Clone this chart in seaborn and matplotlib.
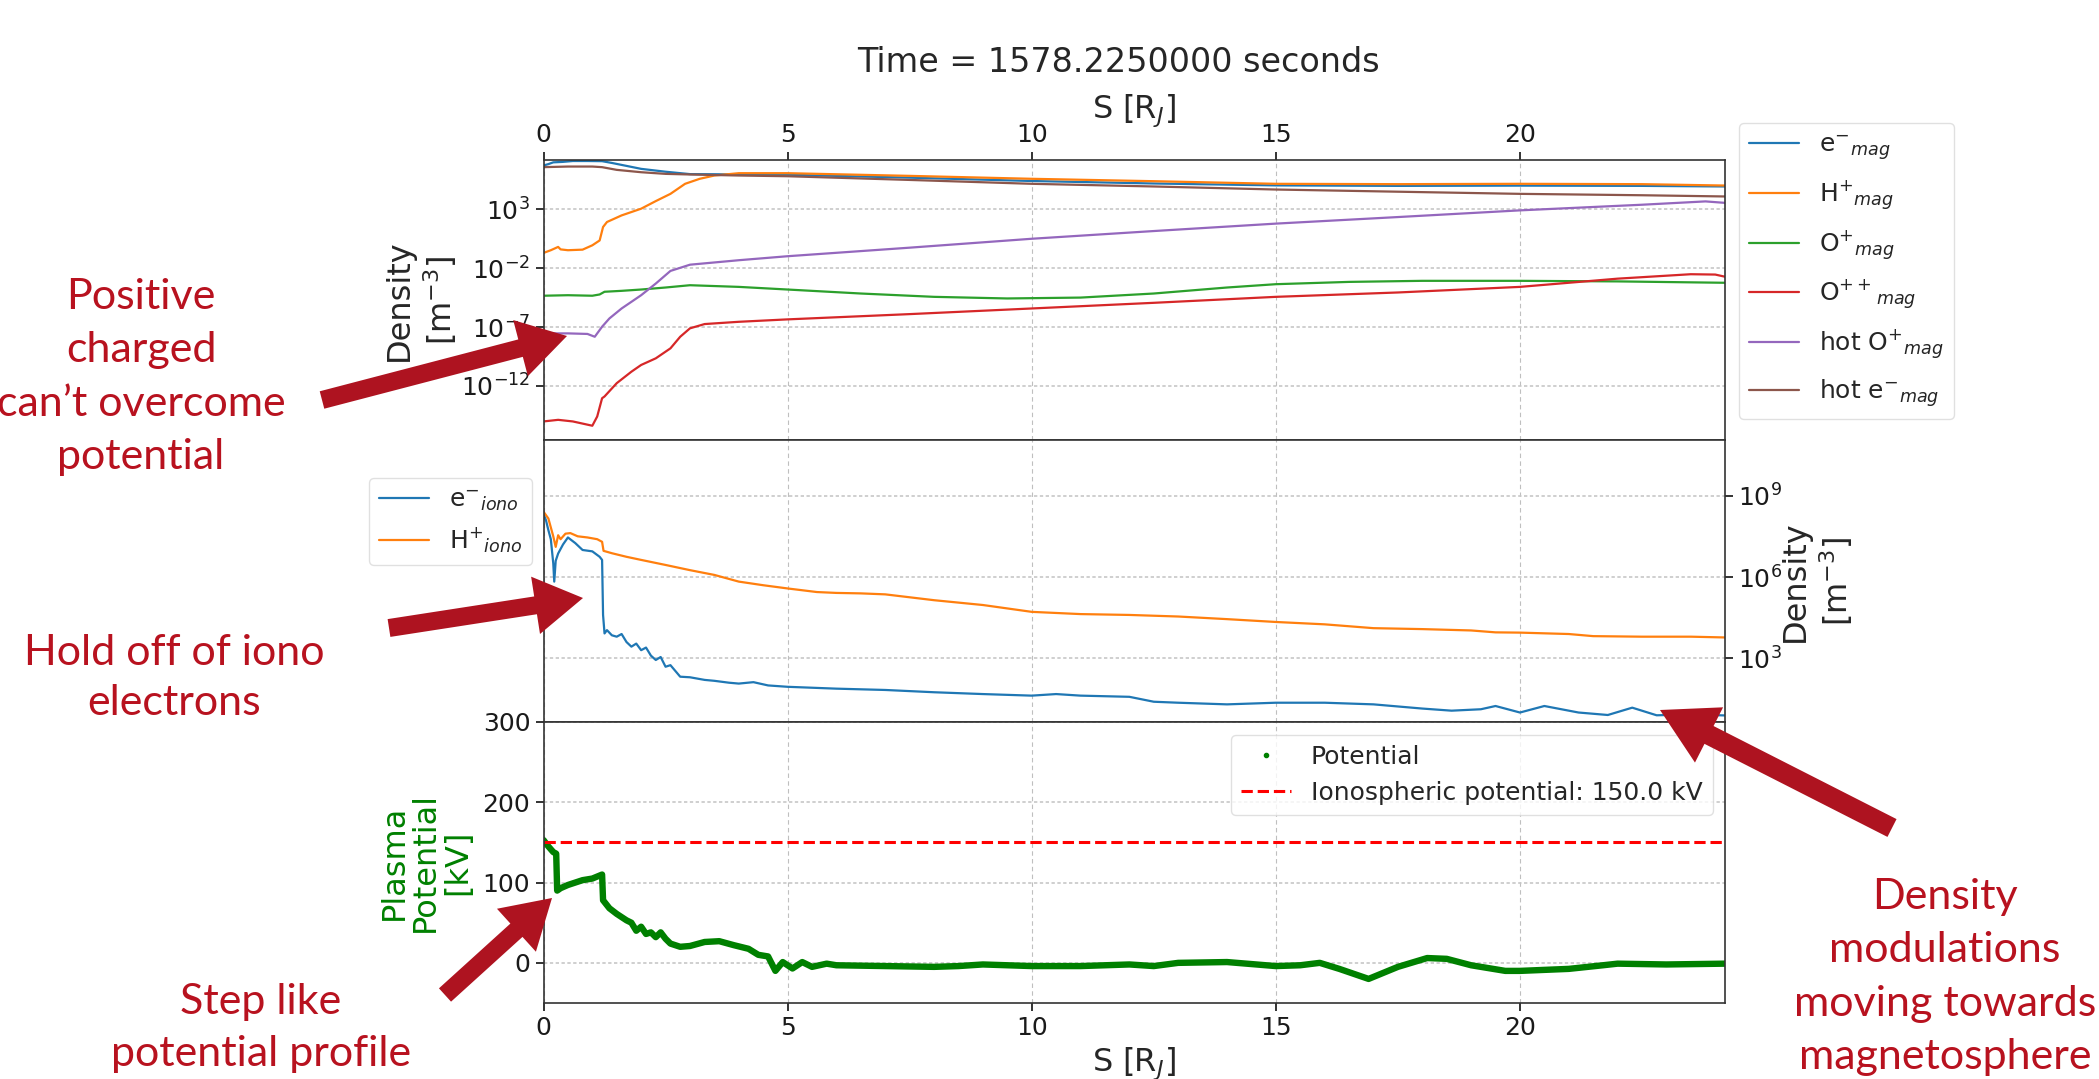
import numpy as np
import pandas as pd
import matplotlib
matplotlib.use("Agg")
import matplotlib.pyplot as plt
import seaborn as sns
from matplotlib.lines import Line2D
from matplotlib.patches import FancyArrow
from matplotlib.transforms import IdentityTransform
from matplotlib.ticker import FixedLocator, LogFormatterSciNotation, NullLocator

# ---------------------------------------------------------------- data
# magnetospheric populations, density [m^-3] along field line S [R_J]
s_e_mag = [0, 0.1, 0.2, 0.4, 0.6, 0.9, 1.2, 1.4, 1.7, 2.0, 2.5, 3.0, 4.0, 5.0,
           7.5, 10, 12.5, 15, 17.5, 20, 22.5, 24.2]
n_e_mag = [5.4e6, 7.1e6, 1.0e7, 1.1e7, 1.3e7, 1.3e7, 1.26e7, 8.9e6, 5.0e6, 2.8e6,
           1.6e6, 1.0e6, 9.5e5, 8.9e5, 5.0e5, 2.6e5, 1.6e5, 1.1e5, 1.0e5, 1.05e5,
           1.0e5, 8.9e4]

s_h_mag = [0, 0.15, 0.3, 0.35, 0.5, 0.8, 1.0, 1.15, 1.22, 1.3, 1.6, 2.0, 2.3,
           2.6, 2.9, 3.2, 3.5, 4.0, 5.0, 7.5, 10, 12.5, 15, 17.5, 20, 22.5, 24.2]
n_h_mag = [0.20, 0.34, 0.65, 0.40, 0.34, 0.38, 0.89, 2.3, 32, 85, 310, 1150, 5100,
           2.1e4, 1.5e5, 4.0e5, 7.6e5, 1.2e6, 1.2e6, 7.1e5, 4.0e5, 2.5e5, 1.5e5,
           1.4e5, 1.5e5, 1.4e5, 1.07e5]

s_o_mag = [0, 0.5, 1.0, 1.15, 1.25, 1.6, 2.0, 2.5, 3.0, 4.0, 5.0, 6.5, 8.0, 9.5,
           11, 12.5, 14, 15, 16.5, 18, 20, 22, 24.2]
n_o_mag = [4.6e-5, 5.1e-5, 4.6e-5, 5.9e-5, 1.0e-4, 1.2e-4, 1.55e-4, 2.3e-4, 3.6e-4,
           2.6e-4, 1.55e-4, 7.1e-5, 3.7e-5, 2.7e-5, 3.2e-5, 7.1e-5, 2.3e-4, 4.4e-4,
           6.9e-4, 8.5e-4, 8.5e-4, 7.6e-4, 5.8e-4]

s_o2_mag = [0, 0.3, 0.6, 1.0, 1.1, 1.2, 1.25, 1.5, 1.8, 2.0, 2.3, 2.6, 2.8, 3.0,
            3.3, 4.0, 5.0, 7.5, 10, 12.5, 15, 17.5, 20, 22, 23.5, 24.0, 24.2]
n_o2_mag = [9.5e-16, 1.3e-15, 9.5e-16, 4.1e-16, 2.5e-15, 8.9e-14, 1.26e-13, 1.7e-12,
            1.6e-11, 6.0e-11, 2.2e-10, 1.55e-9, 1.5e-8, 7.8e-8, 1.8e-7, 2.8e-7,
            4.5e-7, 1.26e-6, 3.8e-6, 1.15e-5, 3.7e-5, 8.7e-5, 2.6e-4, 1.3e-3,
            3.1e-3, 2.9e-3, 1.9e-3]

s_hot_o = [0, 0.5, 0.9, 1.05, 1.2, 1.35, 1.6, 2.0, 2.3, 2.6, 3.0, 4.0, 5.0, 7.5,
           10, 12.5, 15, 17.5, 20, 22.5, 23.8, 24.2]
n_hot_o = [2.9e-8, 2.9e-8, 2.6e-8, 1.5e-8, 1.07e-7, 5.4e-7, 3.8e-6, 5.1e-5, 5.0e-4,
           5.9e-3, 2.0e-2, 4.8e-2, 0.105, 0.56, 3.2, 14.5, 62, 224, 830, 2500,
           4800, 3600]

s_hot_e = [0, 0.5, 1.0, 1.2, 1.5, 2.0, 2.5, 3.0, 4.0, 5.0, 7.5, 10, 12.5, 15, 17.5,
           20, 22.5, 24.2]
n_hot_e = [3.9e6, 4.4e6, 4.4e6, 3.9e6, 2.3e6, 1.45e6, 1.05e6, 9.3e5, 7.6e5, 6.6e5,
           3.2e5, 1.5e5, 8.9e4, 4.9e4, 3.2e4, 2.1e4, 1.6e4, 1.26e4]

# ionospheric populations
s_e_iono = [0, 0.05, 0.1, 0.15, 0.2, 0.22, 0.25, 0.3, 0.4, 0.5, 0.65, 0.8, 1.0,
            1.15, 1.2, 1.22, 1.25, 1.3, 1.4, 1.5, 1.6, 1.7, 1.8, 1.9, 2.0, 2.1,
            2.2, 2.3, 2.4, 2.5, 2.6, 2.8, 3.0, 3.3, 3.5, 3.8, 4.0, 4.3, 4.6, 5.0,
            6.0, 7.0, 8.0, 9.0, 10.0, 10.5, 11.0, 12.0, 12.5, 13.0, 14.0, 15.0,
            16.0, 17.0, 18.0, 18.6, 19.2, 19.5, 20.0, 20.5, 21.2, 21.8, 22.3,
            22.8, 23.5, 24.2]
n_e_iono = [2.2e8, 1.26e8, 5.4e7, 2.5e7, 3.2e6, 6.8e5, 4.0e6, 7.4e6, 1.6e7, 2.9e7,
            1.8e7, 1.0e7, 8.9e6, 5.6e6, 4.3e6, 4.0e4, 8.3e3, 1.1e4, 7.1e3, 6.3e3,
            7.9e3, 4.0e3, 2.7e3, 3.5e3, 2.0e3, 2.5e3, 1.26e3, 870, 1120, 490, 560,
            210, 200, 160, 148, 126, 117, 132, 100, 89, 76, 68, 56, 48, 42, 48,
            42, 38, 25, 23, 20, 23, 23, 20, 14, 11.7, 13.2, 17.4, 10, 17.4, 10,
            8.1, 15.1, 7.9, 8.5, 7.8]

s_h_iono = [0, 0.1, 0.2, 0.25, 0.3, 0.35, 0.45, 0.55, 0.7, 0.9, 1.1, 1.2, 1.23,
            1.4, 1.7, 2.0, 2.5, 3.0, 3.5, 4.0, 4.5, 5.0, 5.6, 6.0, 6.5, 7.0, 8.0,
            9.0, 10.0, 11.0, 12.0, 13.0, 14.0, 15.0, 16.0, 17.0, 18.0, 19.0, 19.5,
            20.0, 21.0, 21.5, 22.5, 23.5, 24.2]
n_h_iono = [2.6e8, 1.45e8, 3.2e7, 1.3e7, 3.5e7, 2.5e7, 4.0e7, 4.2e7, 3.2e7, 2.9e7,
            2.5e7, 2.0e7, 9.3e6, 7.6e6, 5.6e6, 4.3e6, 2.8e6, 1.8e6, 1.2e6, 6.8e5,
            5.0e5, 3.8e5, 2.8e5, 2.6e5, 2.5e5, 2.3e5, 1.4e5, 9.3e4, 5.2e4, 4.3e4,
            4.0e4, 3.5e4, 2.8e4, 2.2e4, 1.8e4, 1.3e4, 1.2e4, 1.07e4, 9.1e3, 8.9e3,
            7.9e3, 6.6e3, 6.3e3, 6.3e3, 5.9e3]

# plasma potential [kV]
s_pot = [0, 0.1, 0.2, 0.26, 0.28, 0.35, 0.5, 0.8, 1.0, 1.2, 1.22, 1.35, 1.5, 1.7,
         1.8, 1.9, 2.0, 2.1, 2.2, 2.3, 2.4, 2.5, 2.6, 2.8, 3.0, 3.3, 3.6, 3.9, 4.2,
         4.4, 4.6, 4.75, 4.9, 5.1, 5.3, 5.5, 5.8, 6.0, 7.0, 8.0, 8.5, 9.0, 10.0,
         11.0, 12.0, 12.5, 13.0, 14.0, 15.0, 15.5, 15.9, 16.3, 16.9, 17.5, 18.1,
         18.5, 19.0, 19.7, 20.0, 21.0, 21.7, 22.0, 23.0, 24.2]
phi_pot = [153, 145, 138, 136, 90, 93, 97, 103, 105, 110, 78, 68, 61, 53, 50, 40,
           45, 36, 38, 32, 38, 30, 24, 20, 21, 26, 27, 22, 17.5, 10, 8, -10, 1, -7,
           1, -5, -1, -3, -4, -5, -4, -2, -4, -4, -2, -4, 0, 1, -4, -3, 0, -7.5,
           -20, -5, 6, 5, -3, -10, -10, -7.5, -3, -1, -2, -1]
iono_potential = 150.0

s_max = 24.2
time_s = 1578.225

TAB = ['#1f77b4', '#ff7f0e', '#2ca02c', '#d62728', '#9467bd', '#8c564b']

mag_series = [
    (s_e_mag, n_e_mag, r'e$^{-}$$_{mag}$', TAB[0]),
    (s_h_mag, n_h_mag, r'H$^{+}$$_{mag}$', TAB[1]),
    (s_o_mag, n_o_mag, r'O$^{+}$$_{mag}$', TAB[2]),
    (s_o2_mag, n_o2_mag, r'O$^{++}$$_{mag}$', TAB[3]),
    (s_hot_o, n_hot_o, r'hot O$^{+}$$_{mag}$', TAB[4]),
    (s_hot_e, n_hot_e, r'hot e$^{-}$$_{mag}$', TAB[5]),
]
iono_series = [
    (s_e_iono, n_e_iono, r'e$^{-}$$_{iono}$', TAB[0]),
    (s_h_iono, n_h_iono, r'H$^{+}$$_{iono}$', TAB[1]),
]

# ---------------------------------------------------------------- style
sns.set_theme(style="ticks")
plt.rcParams['font.family'] = ['DejaVu Sans']
plt.rcParams['mathtext.fontset'] = 'dejavusans'
plt.rcParams['axes.edgecolor'] = '0.2'
plt.rcParams['axes.linewidth'] = 1.2
plt.rcParams['xtick.color'] = '0.1'
plt.rcParams['ytick.color'] = '0.1'
plt.rcParams['legend.frameon'] = True
plt.rcParams['legend.framealpha'] = 0.8
plt.rcParams['legend.edgecolor'] = '0.85'

TICK = 18
LAB = 23
W, H = 2099, 1079
fig = plt.figure(figsize=(W / 100, H / 100), dpi=100)


def box(top_px, bottom_px, left_px=543.5, right_px=1725):
    return [left_px / W, 1 - bottom_px / H, (right_px - left_px) / W,
            (bottom_px - top_px) / H]


ax_mag = fig.add_axes(box(160, 440))
ax_iono = fig.add_axes(box(440, 722))
ax_pot = fig.add_axes(box(722, 1003))


def add_grid(ax):
    ax.grid(axis='x', ls=(0, (4, 3)), color='0.75', lw=0.8)
    ax.grid(axis='y', ls=(0, (2, 1.5)), color='0.78', lw=1.2)
    ax.set_axisbelow(True)


# ---- magnetospheric densities
for s, n, lab, col in mag_series:
    sns.lineplot(x=s, y=n, ax=ax_mag, color=col, label=lab, lw=1.6)
ax_mag.set_yscale('log')
ax_mag.set_xlim(0, s_max)
ax_mag.set_ylim(10 ** -16.6, 10 ** 7.2)
ax_mag.yaxis.set_major_locator(FixedLocator([1e-12, 1e-7, 1e-2, 1e3]))
ax_mag.yaxis.set_major_formatter(LogFormatterSciNotation())
ax_mag.yaxis.set_minor_locator(NullLocator())
ax_mag.xaxis.tick_top()
ax_mag.xaxis.set_label_position('top')
ax_mag.set_xticks([0, 5, 10, 15, 20])
ax_mag.tick_params(labelsize=TICK)
ax_mag.set_xlabel(r'S [R$_J$]', fontsize=LAB, labelpad=4)
ax_mag.set_ylabel('Density\n' + r'[m$^{-3}$]', fontsize=LAB, labelpad=1.5)
add_grid(ax_mag)
ax_mag.legend(loc='upper left', bbox_to_anchor=(1.012, 1.132), borderaxespad=0,
              fontsize=TICK, handlelength=2.0, labelspacing=0.64)

# ---- ionospheric densities
for s, n, lab, col in iono_series:
    sns.lineplot(x=s, y=n, ax=ax_iono, color=col, label=lab, lw=1.6)
ax_iono.set_yscale('log')
ax_iono.set_xlim(0, s_max)
ax_iono.set_ylim(10 ** 0.65, 10 ** 11.06)
ax_iono.yaxis.tick_right()
ax_iono.yaxis.set_label_position('right')
ax_iono.yaxis.set_major_locator(FixedLocator([1e3, 1e6, 1e9]))
ax_iono.yaxis.set_major_formatter(LogFormatterSciNotation())
ax_iono.yaxis.set_minor_locator(NullLocator())
ax_iono.set_xticks([0, 5, 10, 15, 20])
ax_iono.tick_params(axis='x', bottom=False, labelbottom=False)
ax_iono.tick_params(axis='y', labelsize=TICK)
ax_iono.set_xlabel('')
ax_iono.set_ylabel('Density\n' + r'[m$^{-3}$]', fontsize=LAB, labelpad=-1.5)
add_grid(ax_iono)
ax_iono.legend(loc='upper right', bbox_to_anchor=(-0.0097, 0.865), borderaxespad=0,
               fontsize=TICK, handlelength=2.0)

# ---- plasma potential
sns.lineplot(x=s_pot, y=phi_pot, ax=ax_pot, color='green', lw=4.6, legend=False)
ax_pot.axhline(iono_potential, color='red', ls='--', lw=2.2)
ax_pot.set_xlim(0, s_max)
ax_pot.set_ylim(-50, 300)
ax_pot.set_xticks([0, 5, 10, 15, 20])
ax_pot.set_yticks([0, 100, 200, 300])
ax_pot.tick_params(labelsize=TICK)
ax_pot.set_xlabel(r'S [R$_J$]', fontsize=LAB, labelpad=4)
ax_pot.set_ylabel('Plasma\nPotential\n[kV]', fontsize=LAB, color='green', labelpad=7,
                  linespacing=1.03)
add_grid(ax_pot)
pot_handles = [
    Line2D([], [], ls='', marker='.', color='green', markersize=6),
    Line2D([], [], ls='--', color='red', lw=2.2),
]
ax_pot.legend(pot_handles, ['Potential',
                            f'Ionospheric potential: {iono_potential:.1f} kV'],
              loc='upper right', fontsize=TICK, handlelength=2.0)

fig.text(1118 / W, 1 - 62 / H, f'Time = {time_s:.7f} seconds', ha='center',
         va='center', fontsize=24)

# ---- annotations
RED_TXT = '#B8121F'
RED_ARR = '#AE1320'
NOTE_FONT = ['Lato', 'DejaVu Sans']


def note(x_px, y_px, text, spacing):
    fig.text(x_px / W, 1 - y_px / H, text, ha='center', va='center',
             fontsize=31, color=RED_TXT, family=NOTE_FONT, linespacing=spacing)


def block_arrow(x0, y0, x1, y1, width=18, head_width=58, head_length=48):
    X0, Y0, X1, Y1 = x0, H - y0, x1, H - y1
    fig.add_artist(FancyArrow(X0, Y0, X1 - X0, Y1 - Y0, width=width,
                              head_width=head_width, head_length=head_length,
                              length_includes_head=True, transform=IdentityTransform(),
                              color=RED_ARR, lw=0))


note(141, 377, 'Positive\ncharged\ncan\u2019t overcome\npotential', 1.49)
block_arrow(322, 400, 567, 336)
note(174, 678, 'Hold off of iono\nelectrons', 1.36)
block_arrow(389, 628, 583, 598)
note(261, 1028, 'Step like\npotential profile', 1.44)
block_arrow(445, 995, 552, 898)
note(1945, 977, 'Density\nmodulations\nmoving towards\nmagnetosphere', 1.49)
block_arrow(1892, 828, 1660, 710, width=20, head_width=62, head_length=55)

fig.savefig('out.png', dpi=100)
